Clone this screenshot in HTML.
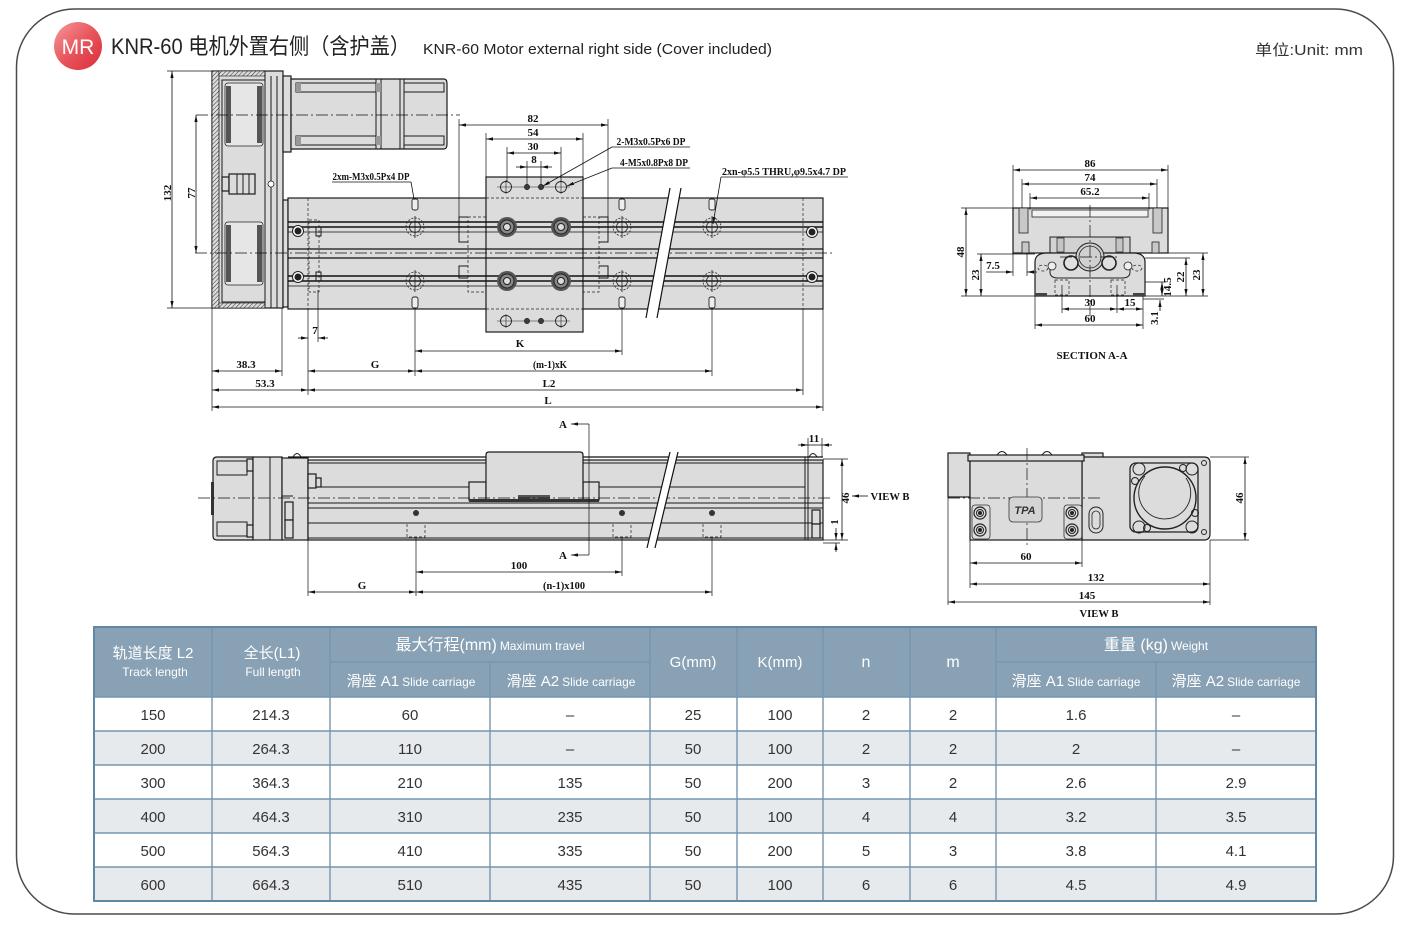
<!DOCTYPE html>
<html><head><meta charset="utf-8"><style>
html,body{margin:0;padding:0;background:#fff;}
svg{display:block;}
.ln{stroke:#1a1a1a;stroke-width:1;fill:none}
.dm{stroke:#111;stroke-width:.8;fill:none}
.ex{stroke:#111;stroke-width:.7;fill:none}
.cl{stroke:#111;stroke-width:.7;fill:none;stroke-dasharray:12 3 2 3}
.hd{stroke:#222;stroke-width:.7;fill:none;stroke-dasharray:3 2}
.g{fill:#dcdcdc;stroke:#1a1a1a;stroke-width:1.2}
.t{font-family:"Liberation Serif",serif;font-weight:bold;font-size:11px;fill:#111}
.s{font-family:"Liberation Sans","Noto Sans CJK SC",sans-serif}
</style></head><body>
<svg width="1410" height="928" viewBox="0 0 1410 928" xmlns="http://www.w3.org/2000/svg">
<defs>
<marker id="a" viewBox="0 0 7 4" refX="7" refY="2" markerWidth="7" markerHeight="4" markerUnits="userSpaceOnUse" orient="auto-start-reverse"><path d="M0,0.4 L7,2 L0,3.6z" fill="#111"/></marker>
<linearGradient id="mr" x1="0" y1="0" x2="1" y2="1"><stop offset="0" stop-color="#f49a9c"/><stop offset="0.5" stop-color="#e9555d"/><stop offset="1" stop-color="#d92c38"/></linearGradient>
<pattern id="h" width="3" height="3" patternUnits="userSpaceOnUse" patternTransform="rotate(45)"><rect width="3" height="3" fill="#dcdcdc"/><line x1="0" y1="0" x2="0" y2="3" stroke="#333" stroke-width="1"/></pattern>
</defs>

<!-- frame -->
<rect x="16.5" y="9" width="1377" height="905" rx="58" fill="none" stroke="#4a4a4a" stroke-width="1.5"/>

<!-- header -->
<circle cx="78" cy="46" r="24" fill="url(#mr)"/>
<text x="78" y="54" text-anchor="middle" class="s" font-size="21" fill="#fff">MR</text>
<text x="111" y="54" class="s" font-size="22" fill="#222" textLength="299" lengthAdjust="spacingAndGlyphs">KNR-60 电机外置右侧（含护盖）</text>
<text x="423" y="54" class="s" font-size="15" fill="#222" textLength="349" lengthAdjust="spacingAndGlyphs">KNR-60 Motor external right side (Cover included)</text>
<text x="1255" y="55" class="s" font-size="15" fill="#333" textLength="108" lengthAdjust="spacingAndGlyphs">单位:Unit: mm</text>

<!-- ================= TOP VIEW ================= -->
<rect x="212" y="71" width="71" height="237" class="g"/>
<rect x="212" y="71" width="7" height="237" fill="url(#h)" stroke="#1a1a1a" stroke-width="0.8"/>
<rect x="219" y="71" width="46" height="5" fill="url(#h)" stroke="#1a1a1a" stroke-width="0.6"/>
<rect x="219" y="303" width="46" height="5" fill="url(#h)" stroke="#1a1a1a" stroke-width="0.6"/>
<line class="ln" x1="265" y1="71" x2="265" y2="308"/>
<line class="ln" x1="271" y1="76" x2="271" y2="308"/>
<line class="ln" x1="277" y1="76" x2="277" y2="308"/>
<rect x="222" y="80" width="43" height="222" class="ln" stroke-width="0.7"/>
<rect x="225" y="83" width="38" height="63" rx="3" fill="#e6e6e6" stroke="#222" stroke-width="0.8"/>
<rect x="226" y="86" width="5" height="57" fill="#555"/><rect x="257" y="86" width="5" height="57" fill="#555"/>
<rect x="225" y="222" width="38" height="63" rx="3" fill="#e6e6e6" stroke="#222" stroke-width="0.8"/>
<rect x="226" y="225" width="5" height="57" fill="#555"/><rect x="257" y="225" width="5" height="57" fill="#555"/>
<rect x="222" y="177" width="7" height="14" class="g" stroke-width="0.8"/>
<rect x="229" y="174" width="26" height="20" class="g" stroke-width="0.8"/>
<line class="ln" x1="237" y1="174" x2="237" y2="194"/><line class="ln" x1="243" y1="174" x2="243" y2="194"/><line class="ln" x1="249" y1="174" x2="249" y2="194"/>
<circle cx="271" cy="184" r="3" fill="#fff" stroke="#222" stroke-width="0.8"/>
<!-- motor -->
<rect x="283" y="76" width="8" height="76" class="g"/>
<path d="M291,79 H444 Q447,79 447,84 V144 Q447,149 444,149 H291 Z" class="g"/>
<line class="ln" x1="376" y1="79" x2="376" y2="149"/><line class="ln" x1="381" y1="79" x2="381" y2="149"/>
<line class="ln" x1="400" y1="79" x2="400" y2="149"/><line class="ln" x1="404" y1="79" x2="404" y2="149"/>
<rect x="296" y="83" width="80" height="9" class="ln" stroke-width="0.8"/><rect x="404" y="83" width="40" height="9" class="ln" stroke-width="0.8"/>
<rect x="296" y="136" width="80" height="9" class="ln" stroke-width="0.8"/><rect x="404" y="136" width="40" height="9" class="ln" stroke-width="0.8"/>
<rect x="296" y="83" width="5" height="9" fill="#999"/><rect x="296" y="136" width="5" height="9" fill="#999"/>
<rect x="376" y="83" width="5" height="9" fill="#999"/><rect x="376" y="136" width="5" height="9" fill="#999"/>
<line class="cl" x1="196" y1="115" x2="460" y2="115"/>

<!-- rail body -->
<rect x="283" y="200" width="5" height="107" class="g" stroke-width="0.8"/>
<rect x="288" y="198" width="535" height="111" class="g" stroke-width="1.5"/>
<line class="hd" x1="308" y1="198" x2="308" y2="309"/>
<line class="hd" x1="803" y1="198" x2="803" y2="309"/>
<rect x="468" y="217" width="18" height="75" class="hd"/>
<rect x="583" y="217" width="16" height="75" class="hd"/>
<path class="ln" d="M468,217 H459 V242 H468 M468,266 H459 V278 H468 M599,217 H608 V242 H599 M599,266 H608 V278 H599" stroke-width="0.8"/>
<rect x="486" y="177" width="97" height="155" class="g" stroke-width="1.5"/>
<line class="hd" x1="486" y1="198" x2="583" y2="198"/>
<line class="hd" x1="486" y1="309" x2="583" y2="309"/>
<g stroke="#111">
<line x1="288" y1="222" x2="823" y2="222" stroke-width="1.6"/>
<line x1="288" y1="227" x2="823" y2="227" stroke-width="1.6"/>
<line x1="288" y1="232" x2="823" y2="232" stroke-width="0.8"/>
<line x1="288" y1="249" x2="823" y2="249" stroke-width="1.3"/>
<line x1="288" y1="258" x2="823" y2="258" stroke-width="1.3"/>
<line x1="288" y1="276" x2="823" y2="276" stroke-width="1.6"/>
<line x1="288" y1="281" x2="823" y2="281" stroke-width="1.6"/>
<line x1="288" y1="286" x2="823" y2="286" stroke-width="0.8"/>
</g>
<line class="cl" x1="195" y1="253" x2="832" y2="253"/>
<rect x="309" y="220" width="10" height="72" class="hd"/>
<rect x="316" y="227" width="5" height="9" class="ln" stroke-width="0.7"/>
<rect x="316" y="272" width="5" height="9" class="ln" stroke-width="0.7"/>
<g>
<circle cx="507" cy="227" r="10" fill="#555"/><circle cx="507" cy="227" r="7" fill="#888" stroke="#222"/><circle cx="507" cy="227" r="3.5" fill="#ddd" stroke="#222"/>
<circle cx="561" cy="227" r="10" fill="#555"/><circle cx="561" cy="227" r="7" fill="#888" stroke="#222"/><circle cx="561" cy="227" r="3.5" fill="#ddd" stroke="#222"/>
<circle cx="507" cy="281" r="10" fill="#555"/><circle cx="507" cy="281" r="7" fill="#888" stroke="#222"/><circle cx="507" cy="281" r="3.5" fill="#ddd" stroke="#222"/>
<circle cx="561" cy="281" r="10" fill="#555"/><circle cx="561" cy="281" r="7" fill="#888" stroke="#222"/><circle cx="561" cy="281" r="3.5" fill="#ddd" stroke="#222"/>
</g>
<g stroke="#222" fill="none" stroke-width="0.8">
<circle cx="415" cy="227" r="9" stroke-dasharray="2 1.5"/><circle cx="415" cy="227" r="5.5"/><path d="M404,227H426M415,216V238"/>
<circle cx="415" cy="281" r="9" stroke-dasharray="2 1.5"/><circle cx="415" cy="281" r="5.5"/><path d="M404,281H426M415,270V292"/>
<circle cx="622" cy="227" r="9" stroke-dasharray="2 1.5"/><circle cx="622" cy="227" r="5.5"/><path d="M611,227H633M622,216V238"/>
<circle cx="622" cy="281" r="9" stroke-dasharray="2 1.5"/><circle cx="622" cy="281" r="5.5"/><path d="M611,281H633M622,270V292"/>
<circle cx="712" cy="227" r="9" stroke-dasharray="2 1.5"/><circle cx="712" cy="227" r="5.5"/><path d="M701,227H723M712,216V238"/>
<circle cx="712" cy="281" r="9" stroke-dasharray="2 1.5"/><circle cx="712" cy="281" r="5.5"/><path d="M701,281H723M712,270V292"/>
</g>
<g stroke="#222" stroke-width="1">
<circle cx="298" cy="231" r="5.5" fill="#fff"/><circle cx="298" cy="231" r="3" fill="#222"/>
<circle cx="298" cy="277" r="5.5" fill="#fff"/><circle cx="298" cy="277" r="3" fill="#222"/>
<circle cx="812" cy="232" r="5.5" fill="#fff"/><circle cx="812" cy="232" r="3" fill="#222"/>
<circle cx="812" cy="277" r="5.5" fill="#fff"/><circle cx="812" cy="277" r="3" fill="#222"/>
</g>
<g fill="#eee" stroke="#222" stroke-width="0.9">
<rect x="412" y="199" width="6" height="11" rx="2"/><rect x="619" y="199" width="6" height="11" rx="2"/><rect x="709" y="199" width="6" height="11" rx="2"/>
<rect x="412" y="297" width="6" height="11" rx="2"/><rect x="619" y="297" width="6" height="11" rx="2"/><rect x="709" y="297" width="6" height="11" rx="2"/>
</g>
<g stroke="#222" stroke-width="0.9" fill="none">
<circle cx="506" cy="187" r="5.5"/><circle cx="561" cy="187" r="5.5"/>
<circle cx="527" cy="187" r="2.5" fill="#444"/><circle cx="541" cy="187" r="2.5" fill="#444"/>
<path d="M497,187H570M506,180V194M561,180V194" stroke-width="0.6"/>
<circle cx="506" cy="321" r="5.5"/><circle cx="561" cy="321" r="5.5"/>
<circle cx="527" cy="321" r="2.5" fill="#444"/><circle cx="541" cy="321" r="2.5" fill="#444"/>
<path d="M497,321H570M506,314V328M561,314V328" stroke-width="0.6"/>
</g>
<polygon points="670,188 681,188 657,318 646,318" fill="#fff"/>
<line x1="670" y1="188" x2="646" y2="318" stroke="#111" stroke-width="1.2"/>
<line x1="681" y1="188" x2="657" y2="318" stroke="#111" stroke-width="1.2"/>

<g>
<line class="ex" x1="459" y1="119" x2="459" y2="217"/><line class="ex" x1="608" y1="119" x2="608" y2="217"/>
<line class="dm" x1="459" y1="125" x2="608" y2="125" marker-start="url(#a)" marker-end="url(#a)"/>
<text class="t" x="533" y="122" text-anchor="middle">82</text>
<line class="ex" x1="486" y1="133" x2="486" y2="177"/><line class="ex" x1="583" y1="133" x2="583" y2="177"/>
<line class="dm" x1="486" y1="139" x2="583" y2="139" marker-start="url(#a)" marker-end="url(#a)"/>
<text class="t" x="533" y="136" text-anchor="middle">54</text>
<line class="ex" x1="507" y1="147" x2="507" y2="182"/><line class="ex" x1="561" y1="147" x2="561" y2="182"/>
<line class="dm" x1="507" y1="153" x2="561" y2="153" marker-start="url(#a)" marker-end="url(#a)"/>
<text class="t" x="533" y="150" text-anchor="middle">30</text>
<line class="ex" x1="527" y1="161" x2="527" y2="185"/><line class="ex" x1="541" y1="161" x2="541" y2="185"/>
<line class="dm" x1="516" y1="167" x2="527" y2="167" marker-end="url(#a)"/>
<line class="dm" x1="552" y1="167" x2="541" y2="167" marker-end="url(#a)"/>
<line class="dm" x1="527" y1="167" x2="541" y2="167"/>
<text class="t" x="534" y="163" text-anchor="middle">8</text>

<line class="dm" x1="612" y1="147" x2="543" y2="186" marker-end="url(#a)"/>
<line class="dm" x1="612" y1="147" x2="690" y2="147"/>
<text class="t" x="651" y="145" text-anchor="middle" textLength="69" lengthAdjust="spacingAndGlyphs">2-M3x0.5Px6 DP</text>
<line class="dm" x1="612" y1="168" x2="567" y2="186" marker-end="url(#a)"/>
<line class="dm" x1="612" y1="168" x2="690" y2="168"/>
<text class="t" x="654" y="166" text-anchor="middle" textLength="68" lengthAdjust="spacingAndGlyphs">4-M5x0.8Px8 DP</text>
<line class="dm" x1="332" y1="182" x2="411" y2="182"/>
<line class="dm" x1="411" y1="182" x2="414" y2="199"/>
<text class="t" x="371" y="180" text-anchor="middle" textLength="77" lengthAdjust="spacingAndGlyphs">2xm-M3x0.5Px4 DP</text>
<line class="dm" x1="721" y1="177" x2="848" y2="177"/>
<line class="dm" x1="721" y1="177" x2="713" y2="224" marker-end="url(#a)"/>
<text class="t" x="784" y="175" text-anchor="middle" textLength="124" lengthAdjust="spacingAndGlyphs">2xn-φ5.5 THRU,φ9.5x4.7 DP</text>

<line class="ex" x1="167" y1="71" x2="212" y2="71"/><line class="ex" x1="167" y1="308" x2="212" y2="308"/>
<line class="dm" x1="172" y1="71" x2="172" y2="308" marker-start="url(#a)" marker-end="url(#a)"/>
<text class="t" transform="translate(171,193) rotate(-90)" text-anchor="middle">132</text>
<line class="dm" x1="196" y1="115" x2="196" y2="253" marker-start="url(#a)" marker-end="url(#a)"/>
<text class="t" transform="translate(195,193) rotate(-90)" text-anchor="middle">77</text>

<line class="ex" x1="212" y1="308" x2="212" y2="411"/>
<line class="ex" x1="282" y1="308" x2="282" y2="376"/>
<line class="ex" x1="308" y1="309" x2="308" y2="395"/>
<line class="ex" x1="318" y1="290" x2="318" y2="342"/>
<line class="ex" x1="415" y1="309" x2="415" y2="376"/>
<line class="ex" x1="622" y1="309" x2="622" y2="355"/>
<line class="ex" x1="712" y1="309" x2="712" y2="376"/>
<line class="ex" x1="803" y1="309" x2="803" y2="395"/>
<line class="ex" x1="823" y1="309" x2="823" y2="411"/>
<line class="dm" x1="298" y1="338" x2="308" y2="338" marker-end="url(#a)"/>
<line class="dm" x1="328" y1="338" x2="318" y2="338" marker-end="url(#a)"/>
<text class="t" x="315" y="334" text-anchor="middle">7</text>
<line class="dm" x1="415" y1="351" x2="622" y2="351" marker-start="url(#a)" marker-end="url(#a)"/>
<text class="t" x="520" y="347" text-anchor="middle">K</text>
<line class="dm" x1="212" y1="371" x2="282" y2="371" marker-start="url(#a)" marker-end="url(#a)"/>
<text class="t" x="246" y="368" text-anchor="middle">38.3</text>
<line class="dm" x1="308" y1="371" x2="415" y2="371" marker-start="url(#a)" marker-end="url(#a)"/>
<text class="t" x="375" y="368" text-anchor="middle">G</text>
<line class="dm" x1="415" y1="371" x2="712" y2="371" marker-start="url(#a)" marker-end="url(#a)"/>
<text class="t" x="550" y="368" text-anchor="middle" textLength="34" lengthAdjust="spacingAndGlyphs">(m-1)xK</text>
<line class="dm" x1="212" y1="390" x2="308" y2="390" marker-start="url(#a)" marker-end="url(#a)"/>
<text class="t" x="265" y="387" text-anchor="middle">53.3</text>
<line class="dm" x1="308" y1="390" x2="803" y2="390" marker-start="url(#a)" marker-end="url(#a)"/>
<text class="t" x="549" y="387" text-anchor="middle">L2</text>
<line class="dm" x1="212" y1="407" x2="823" y2="407" marker-start="url(#a)" marker-end="url(#a)"/>
<text class="t" x="548" y="404" text-anchor="middle">L</text>
</g>

<!-- ================= SIDE VIEW ================= -->
<path d="M217,457 H253 V540 H217 Q213,540 213,536 V461 Q213,457 217,457 Z" class="g"/>
<rect x="211" y="482" width="3" height="33" fill="#333"/>
<rect x="217" y="461" width="30" height="14" class="ln" stroke-width="0.8"/>
<rect x="217" y="522" width="30" height="14" class="ln" stroke-width="0.8"/>
<rect x="247" y="459" width="6" height="12" class="g" stroke-width="0.8"/>
<rect x="247" y="525" width="6" height="12" class="g" stroke-width="0.8"/>
<rect x="253" y="457" width="29" height="83" class="g"/>
<line class="ln" x1="270" y1="457" x2="270" y2="540"/>
<rect x="282" y="458" width="26" height="82" class="g"/>
<rect x="285" y="502" width="8" height="18" class="g" stroke-width="0.8"/>
<rect x="285" y="520" width="8" height="18" class="g" stroke-width="0.8"/>
<line class="ln" x1="282" y1="496" x2="293" y2="496"/>
<path d="M293,457 Q297,450 301,457" class="ln" stroke-width="0.8"/>
<path d="M809,457 Q813,450 817,457" class="ln" stroke-width="0.8"/>
<rect x="308" y="460" width="515" height="80" class="g" stroke-width="1.3"/>
<line x1="288" y1="457" x2="823" y2="457" stroke="#111" stroke-width="1.2"/>
<line class="ln" x1="308" y1="463" x2="823" y2="463" stroke-width="0.8"/>
<rect x="308" y="474" width="8" height="14" class="g" stroke-width="0.8"/>
<rect x="316" y="478" width="5" height="9" class="g" stroke-width="0.8"/>
<line class="ln" x1="321" y1="487" x2="470" y2="487" stroke-width="0.8"/>
<line class="ln" x1="598" y1="487" x2="805" y2="487" stroke-width="0.8"/>
<rect x="469" y="482" width="17" height="18" class="g" stroke-width="1"/>
<rect x="583" y="482" width="16" height="18" class="g" stroke-width="1"/>
<path d="M486,500 V455 Q486,452 489,452 H580 Q583,452 583,455 V500 Z" class="g" stroke-width="1.2"/>
<rect x="518" y="495" width="32" height="4" fill="#555"/>
<rect x="469" y="499" width="130" height="3" fill="#333"/>
<line class="ln" x1="308" y1="503" x2="823" y2="503" stroke-width="1"/>
<line class="ln" x1="308" y1="508" x2="823" y2="508" stroke-width="1"/>
<line class="ln" x1="308" y1="523" x2="823" y2="523" stroke-width="1"/>
<line class="ln" x1="308" y1="538" x2="823" y2="538" stroke-width="0.8"/>
<line class="cl" x1="198" y1="498" x2="832" y2="498"/>
<line class="ln" x1="805" y1="457" x2="805" y2="540"/>
<line class="ln" x1="808" y1="457" x2="808" y2="540"/>
<rect x="812" y="510" width="8" height="14" class="g" stroke-width="0.8"/>
<rect x="812" y="524" width="8" height="14" class="g" stroke-width="0.8"/>
<g>
<circle cx="416" cy="513" r="3" fill="#333"/><circle cx="622" cy="513" r="3" fill="#333"/><circle cx="712" cy="513" r="3" fill="#333"/>
<rect x="407" y="523" width="18" height="14" class="hd"/><rect x="613" y="523" width="18" height="14" class="hd"/><rect x="703" y="523" width="18" height="14" class="hd"/>
</g>
<polygon points="670,452 678,452 655,548 647,548" fill="#fff"/>
<line x1="670" y1="452" x2="647" y2="548" stroke="#111" stroke-width="1.2"/>
<line x1="678" y1="452" x2="655" y2="548" stroke="#111" stroke-width="1.2"/>
<line class="ex" x1="589" y1="424" x2="589" y2="555"/>
<line class="dm" x1="589" y1="424" x2="571" y2="424" marker-end="url(#a)"/>
<line class="dm" x1="589" y1="555" x2="571" y2="555" marker-end="url(#a)"/>
<text class="t" x="563" y="428" text-anchor="middle">A</text>
<text class="t" x="563" y="559" text-anchor="middle">A</text>
<line class="ex" x1="808" y1="438" x2="808" y2="457"/><line class="ex" x1="822" y1="438" x2="822" y2="457"/>
<line class="dm" x1="798" y1="445" x2="808" y2="445" marker-end="url(#a)"/>
<line class="dm" x1="832" y1="445" x2="822" y2="445" marker-end="url(#a)"/>
<line class="dm" x1="808" y1="445" x2="822" y2="445"/>
<text class="t" x="814" y="442" text-anchor="middle">11</text>
<line class="ex" x1="823" y1="459" x2="848" y2="459"/><line class="ex" x1="823" y1="540" x2="848" y2="540"/>
<line class="dm" x1="842" y1="459" x2="842" y2="540" marker-start="url(#a)" marker-end="url(#a)"/>
<text class="t" transform="translate(849,498) rotate(-90)" text-anchor="middle">46</text>
<line class="dm" x1="836" y1="528" x2="836" y2="540" marker-end="url(#a)"/>
<line class="dm" x1="836" y1="552" x2="836" y2="543" marker-end="url(#a)"/>
<line class="ex" x1="823" y1="543" x2="840" y2="543"/>
<text class="t" transform="translate(838,522) rotate(-90)" text-anchor="middle">1</text>
<line class="dm" x1="868" y1="496" x2="852" y2="496" marker-end="url(#a)"/>
<text class="t" x="890" y="500" text-anchor="middle" textLength="39" lengthAdjust="spacingAndGlyphs">VIEW B</text>
<line class="ex" x1="308" y1="540" x2="308" y2="596"/>
<line class="ex" x1="416" y1="537" x2="416" y2="596"/>
<line class="ex" x1="622" y1="537" x2="622" y2="576"/>
<line class="ex" x1="712" y1="537" x2="712" y2="596"/>
<line class="dm" x1="416" y1="572" x2="622" y2="572" marker-start="url(#a)" marker-end="url(#a)"/>
<text class="t" x="519" y="569" text-anchor="middle">100</text>
<line class="dm" x1="308" y1="592" x2="416" y2="592" marker-start="url(#a)" marker-end="url(#a)"/>
<text class="t" x="362" y="589" text-anchor="middle">G</text>
<line class="dm" x1="416" y1="592" x2="712" y2="592" marker-start="url(#a)" marker-end="url(#a)"/>
<text class="t" x="564" y="589" text-anchor="middle" textLength="42" lengthAdjust="spacingAndGlyphs">(n-1)x100</text>

<!-- ================= SECTION A-A ================= -->
<rect x="1013" y="208" width="155" height="45" class="g"/>
<rect x="1032" y="210" width="116" height="7" fill="#f2f2f2" stroke="#222" stroke-width="0.8"/>
<rect x="1019" y="208" width="9" height="25" fill="#c8c8c8" stroke="#222" stroke-width="0.8"/>
<rect x="1153" y="208" width="9" height="25" fill="#c8c8c8" stroke="#222" stroke-width="0.8"/>
<rect x="1022" y="242" width="7" height="11" fill="#c8c8c8" stroke="#222" stroke-width="0.8"/>
<rect x="1152" y="242" width="7" height="11" fill="#c8c8c8" stroke="#222" stroke-width="0.8"/>
<path d="M1050,253 V237 H1130 V253" fill="#d2d2d2" stroke="#222" stroke-width="1"/>
<rect x="1057" y="238" width="7" height="14" fill="#c4c4c4" stroke="#222" stroke-width="0.7"/>
<rect x="1116" y="238" width="7" height="14" fill="#c4c4c4" stroke="#222" stroke-width="0.7"/>
<path d="M1035,296 V262 Q1035,254 1045,253 H1135 Q1145,254 1145,262 V296 Z" class="g"/>
<path d="M1050,262 V272 Q1050,278 1058,278 H1122 Q1130,278 1130,272 V262" fill="none" stroke="#222" stroke-width="1"/>
<rect x="1055" y="280" width="14" height="15" class="hd"/><rect x="1111" y="280" width="14" height="15" class="hd"/>
<ellipse cx="1043" cy="268" rx="5" ry="3" class="hd"/><ellipse cx="1137" cy="268" rx="5" ry="3" class="hd"/>
<circle cx="1090" cy="257" r="14" fill="#d0d0d0" stroke="#222" stroke-width="1"/>
<circle cx="1090" cy="257" r="11" fill="none" stroke="#222" stroke-width="0.8"/>
<circle cx="1071" cy="263" r="7" fill="#e0e0e0" stroke="#222" stroke-width="1.6"/>
<circle cx="1109" cy="263" r="7" fill="#e0e0e0" stroke="#222" stroke-width="1.6"/>
<circle cx="1052" cy="266" r="4" fill="#eee" stroke="#222" stroke-width="0.8"/>
<circle cx="1128" cy="266" r="4" fill="#eee" stroke="#222" stroke-width="0.8"/>
<rect x="1035" y="293" width="12" height="3" fill="#444"/><rect x="1133" y="293" width="12" height="3" fill="#444"/>
<line class="cl" x1="1090" y1="205" x2="1090" y2="316"/>
<line class="cl" x1="1060" y1="257" x2="1120" y2="257"/>
<line class="ex" x1="1013" y1="165" x2="1013" y2="208"/><line class="ex" x1="1168" y1="165" x2="1168" y2="208"/>
<line class="dm" x1="1013" y1="170" x2="1168" y2="170" marker-start="url(#a)" marker-end="url(#a)"/>
<text class="t" x="1090" y="167" text-anchor="middle">86</text>
<line class="ex" x1="1022" y1="179" x2="1022" y2="208"/><line class="ex" x1="1157" y1="179" x2="1157" y2="208"/>
<line class="dm" x1="1022" y1="184" x2="1157" y2="184" marker-start="url(#a)" marker-end="url(#a)"/>
<text class="t" x="1090" y="181" text-anchor="middle">74</text>
<line class="ex" x1="1030" y1="193" x2="1030" y2="210"/><line class="ex" x1="1149" y1="193" x2="1149" y2="210"/>
<line class="dm" x1="1030" y1="198" x2="1149" y2="198" marker-start="url(#a)" marker-end="url(#a)"/>
<text class="t" x="1090" y="195" text-anchor="middle">65.2</text>
<line class="ex" x1="961" y1="208" x2="1013" y2="208"/><line class="ex" x1="961" y1="296" x2="1035" y2="296"/>
<line class="dm" x1="966" y1="208" x2="966" y2="296" marker-start="url(#a)" marker-end="url(#a)"/>
<text class="t" transform="translate(964,252) rotate(-90)" text-anchor="middle">48</text>
<line class="ex" x1="977" y1="254" x2="1035" y2="254"/>
<line class="dm" x1="981" y1="254" x2="981" y2="296" marker-start="url(#a)" marker-end="url(#a)"/>
<text class="t" transform="translate(979,275) rotate(-90)" text-anchor="middle">23</text>
<line class="ex" x1="1013" y1="253" x2="1013" y2="276"/><line class="ex" x1="1027" y1="253" x2="1027" y2="276"/>
<line class="dm" x1="986" y1="272" x2="1013" y2="272" marker-end="url(#a)"/>
<line class="dm" x1="1037" y1="272" x2="1027" y2="272" marker-end="url(#a)"/>
<text class="t" x="993" y="269" text-anchor="middle">7.5</text>
<line class="ex" x1="1145" y1="296" x2="1208" y2="296"/>
<line class="ex" x1="1145" y1="258" x2="1190" y2="258"/>
<line class="ex" x1="1168" y1="253" x2="1208" y2="253"/>
<line class="ex" x1="1145" y1="282" x2="1166" y2="282"/>
<line class="dm" x1="1162" y1="282" x2="1162" y2="296" marker-start="url(#a)" marker-end="url(#a)"/>
<text class="t" transform="translate(1171,287) rotate(-90)" text-anchor="middle">14.5</text>
<line class="dm" x1="1186" y1="258" x2="1186" y2="296" marker-start="url(#a)" marker-end="url(#a)"/>
<text class="t" transform="translate(1184,277) rotate(-90)" text-anchor="middle">22</text>
<line class="dm" x1="1203" y1="253" x2="1203" y2="296" marker-start="url(#a)" marker-end="url(#a)"/>
<text class="t" transform="translate(1200,275) rotate(-90)" text-anchor="middle">23</text>
<line class="ex" x1="1143" y1="299" x2="1164" y2="299"/>
<line class="dm" x1="1160" y1="311" x2="1160" y2="300" marker-end="url(#a)"/>
<text class="t" transform="translate(1158,318) rotate(-90)" text-anchor="middle">3.1</text>
<line class="ex" x1="1062" y1="285" x2="1062" y2="313"/><line class="ex" x1="1117" y1="285" x2="1117" y2="313"/>
<line class="ex" x1="1143" y1="296" x2="1143" y2="329"/><line class="ex" x1="1035" y1="296" x2="1035" y2="329"/>
<line class="dm" x1="1062" y1="309" x2="1117" y2="309" marker-start="url(#a)" marker-end="url(#a)"/>
<text class="t" x="1090" y="306" text-anchor="middle">30</text>
<line class="dm" x1="1117" y1="309" x2="1143" y2="309" marker-start="url(#a)" marker-end="url(#a)"/>
<text class="t" x="1130" y="306" text-anchor="middle">15</text>
<line class="dm" x1="1035" y1="325" x2="1143" y2="325" marker-start="url(#a)" marker-end="url(#a)"/>
<text class="t" x="1090" y="322" text-anchor="middle">60</text>
<text class="t" x="1092" y="359" text-anchor="middle" font-size="12" textLength="71" lengthAdjust="spacingAndGlyphs">SECTION A-A</text>

<!-- ================= VIEW B ================= -->
<rect x="948" y="453" width="22" height="44" class="g"/>
<rect x="1082" y="453" width="21" height="44" class="g"/>
<path d="M1082,457 H1204 Q1210,457 1210,463 V534 Q1210,540 1204,540 H1082 Z" class="g"/>
<rect x="970" y="457" width="112" height="83" class="g"/>
<rect x="968" y="455" width="116" height="6" class="g" stroke-width="1"/>
<path d="M997,455 Q1002,448 1007,455 M1042,455 Q1047,448 1052,455" class="ln" stroke-width="0.8"/>
<line class="cl" x1="948" y1="498" x2="1100" y2="498"/>
<line class="cl" x1="1027" y1="448" x2="1027" y2="546"/>
<rect x="1009" y="497" width="33" height="25" rx="4" fill="#d4d4d4" stroke="#333" stroke-width="0.8"/>
<text x="1025" y="514" text-anchor="middle" font-family="Liberation Sans,sans-serif" font-style="italic" font-weight="bold" font-size="11" fill="#333">TPA</text>
<rect x="972" y="505" width="18" height="34" rx="3" fill="none" stroke="#333" stroke-width="0.8"/>
<rect x="1064" y="505" width="18" height="34" rx="3" fill="none" stroke="#333" stroke-width="0.8"/>
<g fill="none" stroke="#222">
<circle cx="980" cy="513" r="6" stroke-width="1.2"/><circle cx="980" cy="513" r="3.5"/><circle cx="980" cy="513" r="1.5" fill="#222"/>
<circle cx="980" cy="530" r="6" stroke-width="1.2"/><circle cx="980" cy="530" r="3.5"/><circle cx="980" cy="530" r="1.5" fill="#222"/>
<circle cx="1072" cy="513" r="6" stroke-width="1.2"/><circle cx="1072" cy="513" r="3.5"/><circle cx="1072" cy="513" r="1.5" fill="#222"/>
<circle cx="1072" cy="530" r="6" stroke-width="1.2"/><circle cx="1072" cy="530" r="3.5"/><circle cx="1072" cy="530" r="1.5" fill="#222"/>
<rect x="1089" y="507" width="14" height="26" rx="7" stroke-width="1"/>
<rect x="1092" y="511" width="8" height="18" rx="4" stroke-width="0.8"/>
<rect x="1130" y="463" width="68" height="69" rx="6" stroke-width="1.3"/>
<circle cx="1165" cy="498" r="31" stroke-width="1.4"/>
<path d="M1145,476 A26,26 0 1,0 1186,478" stroke-width="0.9"/>
<circle cx="1139" cy="469" r="6"/><circle cx="1192" cy="469" r="6"/><circle cx="1139" cy="527" r="6"/><circle cx="1192" cy="527" r="6"/>
<circle cx="1135" cy="481" r="3.5"/><circle cx="1183" cy="468" r="3.5"/><circle cx="1195" cy="513" r="3.5"/><circle cx="1147" cy="528" r="3.5"/>
<circle cx="1204" cy="463" r="2.5"/><circle cx="1204" cy="532" r="2.5"/>
</g>
<line class="ex" x1="1210" y1="457" x2="1249" y2="457"/><line class="ex" x1="1210" y1="540" x2="1249" y2="540"/>
<line class="dm" x1="1245" y1="457" x2="1245" y2="540" marker-start="url(#a)" marker-end="url(#a)"/>
<text class="t" transform="translate(1243,498) rotate(-90)" text-anchor="middle">46</text>
<line class="ex" x1="948" y1="497" x2="948" y2="605"/>
<line class="ex" x1="970" y1="540" x2="970" y2="588"/>
<line class="ex" x1="1082" y1="540" x2="1082" y2="567"/>
<line class="ex" x1="1210" y1="540" x2="1210" y2="605"/>
<line class="dm" x1="970" y1="563" x2="1082" y2="563" marker-start="url(#a)" marker-end="url(#a)"/>
<text class="t" x="1026" y="560" text-anchor="middle">60</text>
<line class="dm" x1="970" y1="584" x2="1210" y2="584" marker-start="url(#a)" marker-end="url(#a)"/>
<text class="t" x="1096" y="581" text-anchor="middle">132</text>
<line class="dm" x1="948" y1="602" x2="1210" y2="602" marker-start="url(#a)" marker-end="url(#a)"/>
<text class="t" x="1087" y="599" text-anchor="middle">145</text>
<text class="t" x="1099" y="617" text-anchor="middle" font-size="12" textLength="39" lengthAdjust="spacingAndGlyphs">VIEW B</text>

<!-- ================= TABLE ================= -->
<rect x="94" y="627" width="1222" height="70" fill="#88a1b5"/>
<rect x="94" y="697" width="1222" height="34" fill="#ffffff"/>
<rect x="94" y="731" width="1222" height="34" fill="#e7eaed"/>
<rect x="94" y="765" width="1222" height="34" fill="#ffffff"/>
<rect x="94" y="799" width="1222" height="34" fill="#e7eaed"/>
<rect x="94" y="833" width="1222" height="34" fill="#ffffff"/>
<rect x="94" y="867" width="1222" height="34" fill="#e7eaed"/>
<g stroke="#7696af" stroke-width="1.4">
<line x1="330" y1="662" x2="650" y2="662"/><line x1="996" y1="662" x2="1316" y2="662"/>
<line x1="94" y1="697" x2="1316" y2="697"/>
<line x1="94" y1="731" x2="1316" y2="731"/><line x1="94" y1="765" x2="1316" y2="765"/>
<line x1="94" y1="799" x2="1316" y2="799"/><line x1="94" y1="833" x2="1316" y2="833"/>
<line x1="94" y1="867" x2="1316" y2="867"/>
<line x1="212" y1="627" x2="212" y2="901"/><line x1="330" y1="627" x2="330" y2="901"/>
<line x1="490" y1="662" x2="490" y2="901"/><line x1="650" y1="627" x2="650" y2="901"/>
<line x1="737" y1="627" x2="737" y2="901"/><line x1="823" y1="627" x2="823" y2="901"/>
<line x1="910" y1="627" x2="910" y2="901"/><line x1="996" y1="627" x2="996" y2="901"/>
<line x1="1156" y1="662" x2="1156" y2="901"/>
</g>
<rect x="94" y="627" width="1222" height="274" fill="none" stroke="#5f88a7" stroke-width="2"/>

<g class="s" fill="#fff" text-anchor="middle">
<text x="153" y="658" font-size="15">轨道长度 L2</text>
<text x="155" y="676" font-size="12">Track length</text>
<text x="272" y="658" font-size="15">全长(L1)</text>
<text x="273" y="676" font-size="12">Full length</text>
<text x="490" y="650"><tspan font-size="16">最大行程(mm)</tspan><tspan font-size="12" dx="3">Maximum travel</tspan></text>
<text x="411" y="686"><tspan font-size="15">滑座 A1</tspan><tspan font-size="12" dx="3">Slide carriage</tspan></text>
<text x="571" y="686"><tspan font-size="15">滑座 A2</tspan><tspan font-size="12" dx="3">Slide carriage</tspan></text>
<text x="693" y="667" font-size="15">G(mm)</text>
<text x="780" y="667" font-size="15">K(mm)</text>
<text x="866" y="667" font-size="16">n</text>
<text x="953" y="667" font-size="16">m</text>
<text x="1156" y="650"><tspan font-size="16">重量 (kg)</tspan><tspan font-size="12" dx="3">Weight</tspan></text>
<text x="1076" y="686"><tspan font-size="15">滑座 A1</tspan><tspan font-size="12" dx="3">Slide carriage</tspan></text>
<text x="1236" y="686"><tspan font-size="15">滑座 A2</tspan><tspan font-size="12" dx="3">Slide carriage</tspan></text>
</g>

<g class="s" fill="#333" font-size="15" text-anchor="middle">
<text x="153" y="720">150</text><text x="271" y="720">214.3</text><text x="410" y="720">60</text><text x="570" y="720">–</text><text x="693" y="720">25</text><text x="780" y="720">100</text><text x="866" y="720">2</text><text x="953" y="720">2</text><text x="1076" y="720">1.6</text><text x="1236" y="720">–</text>
<text x="153" y="754">200</text><text x="271" y="754">264.3</text><text x="410" y="754">110</text><text x="570" y="754">–</text><text x="693" y="754">50</text><text x="780" y="754">100</text><text x="866" y="754">2</text><text x="953" y="754">2</text><text x="1076" y="754">2</text><text x="1236" y="754">–</text>
<text x="153" y="788">300</text><text x="271" y="788">364.3</text><text x="410" y="788">210</text><text x="570" y="788">135</text><text x="693" y="788">50</text><text x="780" y="788">200</text><text x="866" y="788">3</text><text x="953" y="788">2</text><text x="1076" y="788">2.6</text><text x="1236" y="788">2.9</text>
<text x="153" y="822">400</text><text x="271" y="822">464.3</text><text x="410" y="822">310</text><text x="570" y="822">235</text><text x="693" y="822">50</text><text x="780" y="822">100</text><text x="866" y="822">4</text><text x="953" y="822">4</text><text x="1076" y="822">3.2</text><text x="1236" y="822">3.5</text>
<text x="153" y="856">500</text><text x="271" y="856">564.3</text><text x="410" y="856">410</text><text x="570" y="856">335</text><text x="693" y="856">50</text><text x="780" y="856">200</text><text x="866" y="856">5</text><text x="953" y="856">3</text><text x="1076" y="856">3.8</text><text x="1236" y="856">4.1</text>
<text x="153" y="890">600</text><text x="271" y="890">664.3</text><text x="410" y="890">510</text><text x="570" y="890">435</text><text x="693" y="890">50</text><text x="780" y="890">100</text><text x="866" y="890">6</text><text x="953" y="890">6</text><text x="1076" y="890">4.5</text><text x="1236" y="890">4.9</text>
</g>
</svg>
</body></html>
